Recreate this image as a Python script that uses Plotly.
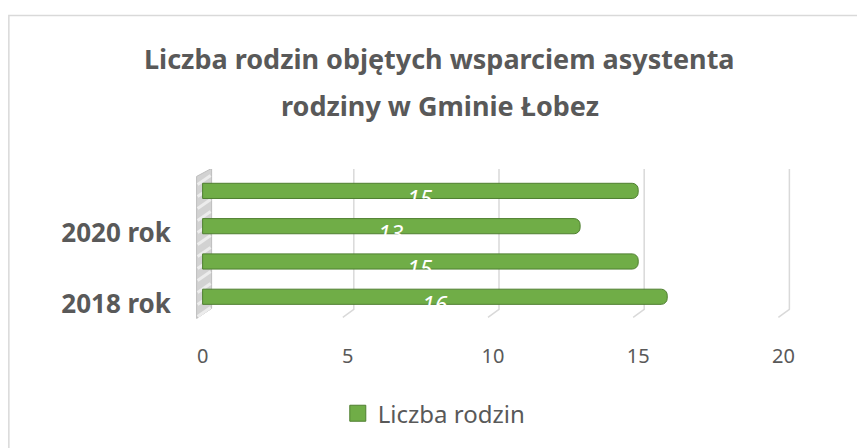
import plotly.graph_objects as go

categories = ["2018 rok", "2019 rok", "2020 rok", "2021 rok"]
values = [16, 15, 13, 15]
shown_labels = ["2018 rok", "2020 rok"]
x_ticks = [0, 5, 10, 15, 20]
title_lines = ["Liczba rodzin objętych wsparciem asystenta", "rodziny w Gminie Łobez"]
series_name = "Liczba rodzin"

W, H = 857, 448
# x scale: 0 -> 203px, 29 px per unit, range [-0.4, 20.4]
XR = [-0.4, 20.4]
ML = 203 + XR[0] * 29
PW = (XR[1] - XR[0]) * 29
MR = W - ML - PW
# y scale: category i centre at 297 - 35.33 i
YR = [-0.8, 3.62]
PPY = 35.33
PLOT_BOTTOM = 297 - YR[0] * PPY
PLOT_TOP = 297 - YR[1] * PPY
MT = PLOT_TOP
MB = H - PLOT_BOTTOM
PH = PLOT_BOTTOM - PLOT_TOP

def px_x(p):
    return (p - ML) / PW

def px_y(p):
    return (PLOT_BOTTOM - p) / PH

GRAY = "#595959"
FONT = "Noto Sans"

fig = go.Figure()
fig.add_trace(go.Bar(
    y=categories, x=values, orientation="h", name=series_name,
    marker=dict(color="#70ad47", line=dict(color="#4f7f30", width=1), cornerradius=6),
    width=0.43, showlegend=False, hoverinfo="x+y",
))
# legend entry (square icon)
fig.add_trace(go.Scatter(
    x=[None], y=[None], mode="markers", name=series_name,
    marker=dict(symbol="square", size=16, color="#70ad47", line=dict(color="#4f7f30", width=1)),
    showlegend=True,
))

shapes = []
# chart border (left + top)
shapes.append(dict(type="rect", xref="paper", yref="paper",
                   x0=px_x(9.5), x1=px_x(900), y0=px_y(470), y1=px_y(15.5),
                   line=dict(color="#d9d9d9", width=1.5), fillcolor="rgba(0,0,0,0)", layer="below"))
# 3D wall at the left
shapes.append(dict(type="path", xref="x", yref="y", xsizemode="pixel", ysizemode="pixel",
                   xanchor=0, yanchor=-0.5,
                   path="M-6,-4 L9,6 L9,146 L-6,138 Z",
                   fillcolor="#d2d2d2", line=dict(color="#bdbdbd", width=1), layer="below"))
for k in range(12):
    yb = -2 + k * 12
    shapes.append(dict(type="path", xref="x", yref="y", xsizemode="pixel", ysizemode="pixel",
                       xanchor=0, yanchor=-0.5,
                       path=f"M-5,{yb} L8,{yb + 9}",
                       line=dict(color="#ececec", width=3), layer="below"))
# 3D gridlines
for v in x_ticks[1:]:
    shapes.append(dict(type="path", xref="x", yref="y", xsizemode="pixel", ysizemode="pixel",
                       xanchor=v, yanchor=-0.5,
                       path="M6,146 L6,5 L-5,-3",
                       line=dict(color="#d9d9d9", width=1.5), layer="below"))

annotations = []
for c, v in zip(categories, values):
    annotations.append(dict(x=v / 2, y=c, xref="x", yref="y", text=str(v), showarrow=False,
                            yshift=-7, font=dict(family=FONT, size=23, color="white", style="italic")))
for i, t in enumerate(title_lines):
    annotations.append(dict(x=px_x(440), y=px_y(58 + 48 * i), xref="paper", yref="paper",
                            text="<b>" + t + "</b>", showarrow=False, xanchor="center", yanchor="middle",
                            font=dict(family=FONT, size=27, color=GRAY)))

fig.update_layout(
    width=W, height=H,
    margin=dict(l=ML, r=MR, t=MT, b=MB, pad=0, autoexpand=False),
    paper_bgcolor="white", plot_bgcolor="white",
    showlegend=True,
    legend=dict(orientation="h", x=px_x(338), y=px_y(414), xanchor="left", yanchor="middle",
                font=dict(family=FONT, size=24, color=GRAY), bgcolor="rgba(0,0,0,0)",
                itemwidth=30),
    xaxis=dict(range=XR, tickvals=x_ticks, showgrid=False, zeroline=False, showline=False,
               ticks="", ticklabelstandoff=17,
               tickfont=dict(family=FONT, size=20, color=GRAY), fixedrange=True),
    yaxis=dict(type="category", categoryarray=categories, range=YR,
               tickvals=shown_labels, ticktext=shown_labels, showgrid=False, zeroline=False,
               showline=False, ticks="", ticklabelstandoff=19, ticklabelshift=7,
               tickfont=dict(family=FONT, size=26, color=GRAY, weight="bold"), fixedrange=True),
    shapes=shapes, annotations=annotations,
)

fig.write_html("out.html", post_script="document.body.style.margin='0';",
               config={"displayModeBar": False})
